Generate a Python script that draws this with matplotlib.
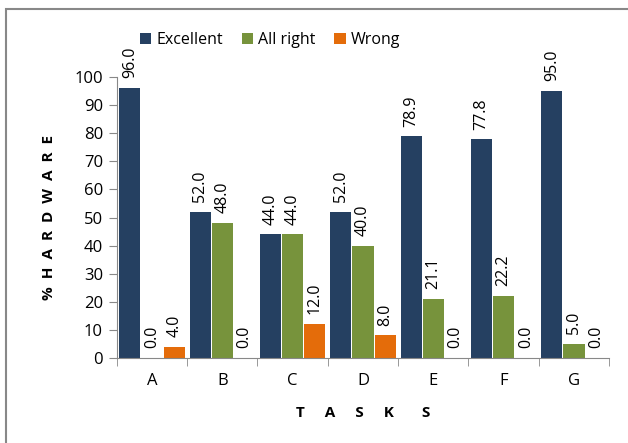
import matplotlib.pyplot as plt
import numpy as np
from matplotlib.patches import Rectangle

tasks = ['A', 'B', 'C', 'D', 'E', 'F', 'G']
excellent = [96.0, 52.0, 44.0, 52.0, 78.9, 77.8, 95.0]
all_right = [0.0, 48.0, 44.0, 40.0, 21.1, 22.2, 5.0]
wrong = [4.0, 0.0, 12.0, 8.0, 0.0, 0.0, 0.0]

series = [('Excellent', excellent, '#254061'),
          ('All right', all_right, '#77933C'),
          ('Wrong', wrong, '#E46C0A')]

plt.rcParams['font.family'] = ['Open Sans', 'DejaVu Sans']

fig = plt.figure(figsize=(6.28, 4.43), dpi=100)
ax = fig.add_axes([0.186, 0.192, 0.784, 0.634])

# outer frame (right and bottom edges fall off the picture)
fig.patches.append(Rectangle((6 / 628, -0.05), 1.1, 1 - 9 / 443 + 0.05,
                             transform=fig.transFigure, fill=False,
                             edgecolor='#888888', linewidth=1.5))

x = np.arange(len(tasks))
w = 0.3
for i, (name, vals, col) in enumerate(series):
    pos = x + (i - 1) * (w + 0.015)
    bars = ax.bar(pos, vals, w, color=col, label=name, zorder=2)
    for p, v in zip(pos, vals):
        ax.text(p, v + 3.5, f'{v:.1f}', rotation=90, ha='center', va='bottom',
                fontsize=11.5, color='black')

ax.set_xlim(-0.5, len(tasks) - 0.5)
ax.set_ylim(0, 100)
ax.set_yticks(range(0, 101, 10))
ax.set_xticks(x)
ax.set_xticklabels(tasks)
ax.set_xticks(np.arange(-0.5, len(tasks)), minor=True)
ax.tick_params(axis='x', which='major', length=0, pad=11, labelsize=12)
ax.tick_params(axis='x', which='minor', length=6, color='#888888')
ax.tick_params(axis='y', length=6, color='#888888', labelsize=12, pad=4)

for s in ['top', 'right']:
    ax.spines[s].set_visible(False)
for s in ['left', 'bottom']:
    ax.spines[s].set_color('#888888')

ax.set_ylabel('%  H  A  R  D  W  A  R  E', fontweight='bold', fontsize=11,
              labelpad=13)
ax.set_xlabel('T     A     S     K       S', fontweight='bold', fontsize=11,
              labelpad=12)

ax.legend(loc='center', bbox_to_anchor=(270 / 628, 1 - 40 / 443),
          bbox_transform=fig.transFigure, ncol=3, frameon=False,
          handlelength=0.7, handleheight=0.7, handletextpad=0.3,
          columnspacing=1.2, fontsize=11.5)

fig.savefig('out.png', dpi=100)
